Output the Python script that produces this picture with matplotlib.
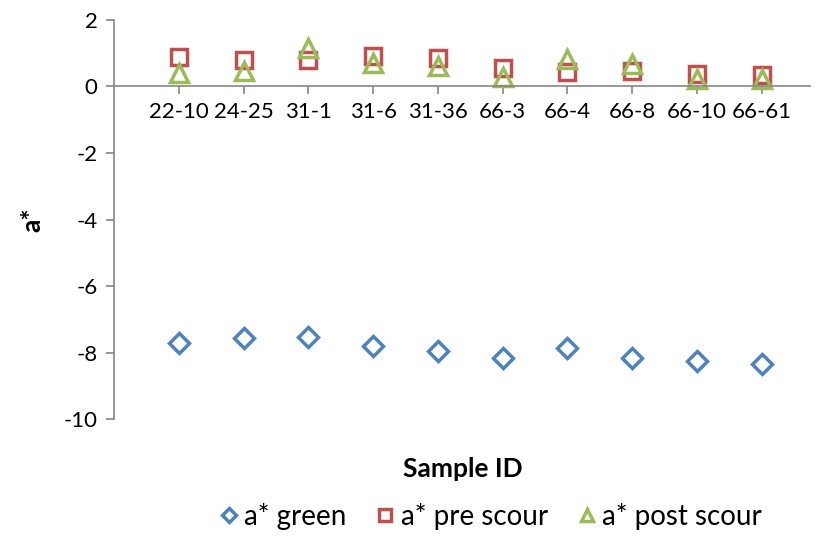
import matplotlib.pyplot as plt

plt.rcParams['font.family'] = ['Lato', 'DejaVu Sans']
plt.rcParams['axes.unicode_minus'] = False

samples = ['22-10', '24-25', '31-1', '31-6', '31-36', '66-3', '66-4', '66-8', '66-10', '66-61']
a_green = [-7.70, -7.55, -7.53, -7.80, -7.95, -8.15, -7.85, -8.15, -8.25, -8.35]
a_pre_scour = [0.87, 0.78, 0.78, 0.93, 0.84, 0.54, 0.42, 0.45, 0.36, 0.33]
a_post_scour = [0.39, 0.45, 1.17, 0.69, 0.60, 0.27, 0.81, 0.66, 0.21, 0.21]

x = list(range(1, len(samples) + 1))
grey = '#868686'

fig = plt.figure(figsize=(8.16, 5.38), dpi=100)
ax = fig.add_axes([0.14, 0.221, 0.853, 0.742])

ax.plot(x, a_green, linestyle='none', marker='D', markersize=10, markerfacecolor='none',
        markeredgecolor='#4F81BD', markeredgewidth=2.5, label='a* green')
ax.plot(x, a_pre_scour, linestyle='none', marker='s', markersize=12, markerfacecolor='none',
        markeredgecolor='#C0504D', markeredgewidth=2.5, label='a* pre scour')
ax.plot(x, a_post_scour, linestyle='none', marker='^', markersize=13, markerfacecolor='none',
        markeredgecolor='#9BBB59', markeredgewidth=2.5, label='a* post scour')

ax.set_xlim(0, 10.75)
ax.set_ylim(-10, 2)
ax.set_yticks(range(-10, 3, 2))
ax.set_xticks(x)
ax.set_xticklabels(samples)

# Excel-style axes: x axis crosses at zero
ax.spines['top'].set_visible(False)
ax.spines['right'].set_visible(False)
ax.spines['bottom'].set_position(('data', 0))
ax.spines['bottom'].set_color(grey)
ax.spines['left'].set_color(grey)
ax.spines['bottom'].set_linewidth(1.2)
ax.spines['left'].set_linewidth(1.2)
ax.tick_params(axis='both', direction='out', length=6, width=1.2, color=grey,
               labelsize=16, pad=6)
ax.tick_params(axis='x', pad=5)

ax.set_ylabel('a*', fontsize=19, fontweight='bold', labelpad=14)
fig.text(0.567, 0.128, 'Sample ID', ha='center', va='center', fontsize=19, fontweight='bold')

fig.legend(loc='center', bbox_to_anchor=(0.6, 0.04), ncol=3, frameon=False,
           fontsize=20, handletextpad=0.15, columnspacing=1.0, handlelength=0.8,
           markerscale=0.7)

fig.savefig('out.png', dpi=100)
